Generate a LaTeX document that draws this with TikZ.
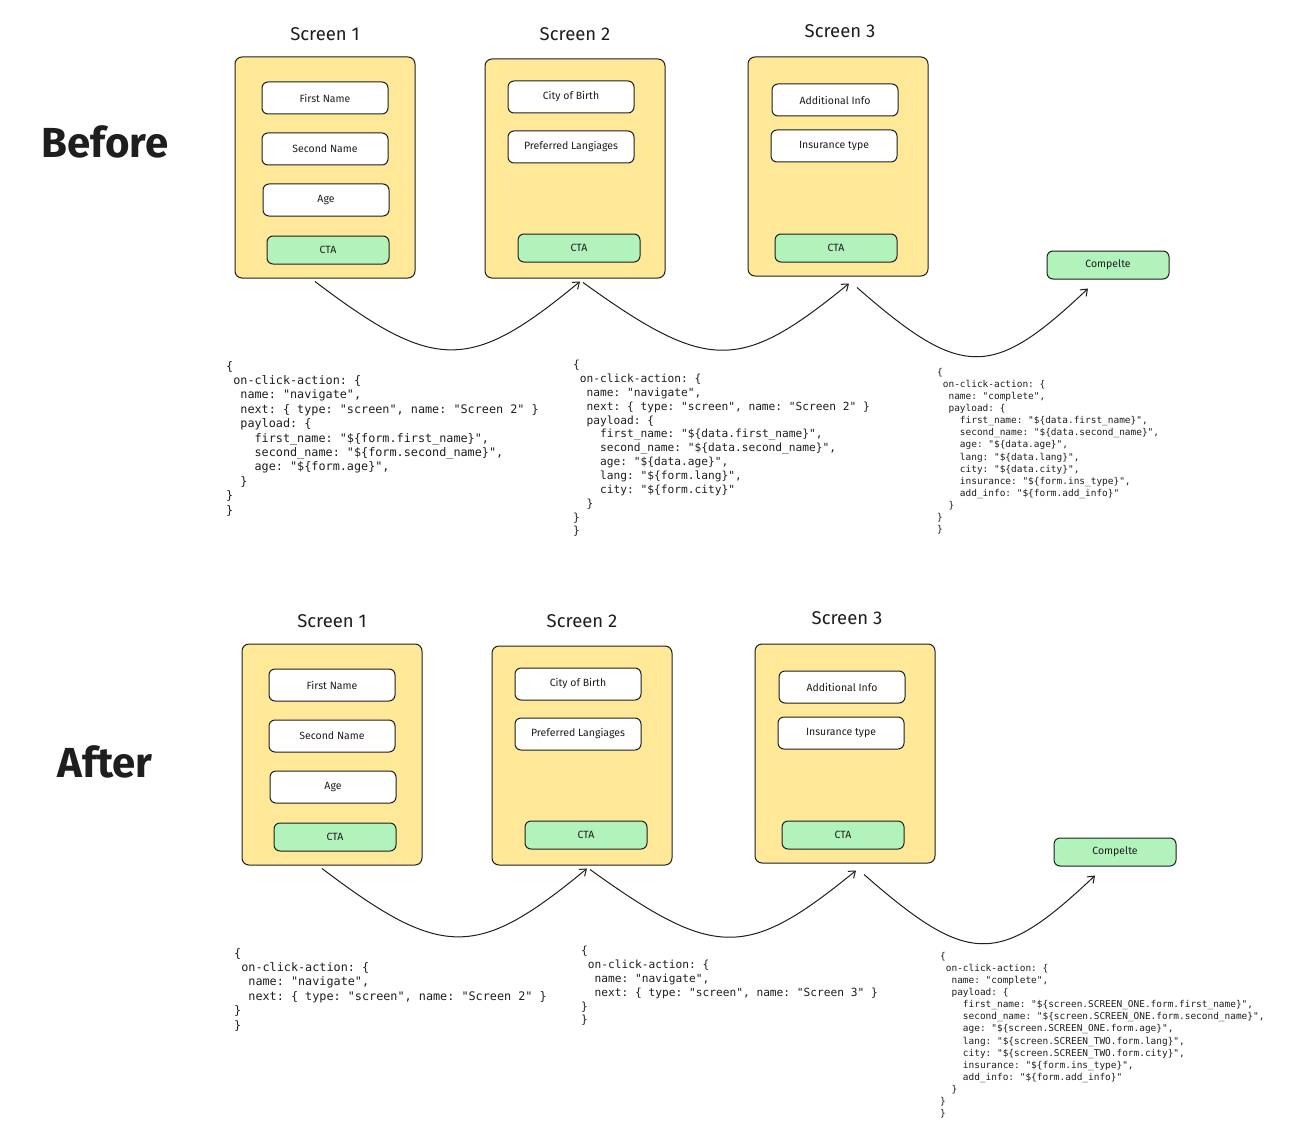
\documentclass[tikz,border=0pt]{standalone}
\usepackage{fontspec}
\setmainfont{Fira Sans}
\setmonofont{DejaVu Sans Mono}
\usetikzlibrary{arrows.meta}
\definecolor{ink}{HTML}{1E1E1E}
\definecolor{screenfill}{HTML}{FFE999}
\definecolor{ctafill}{HTML}{B2F2BB}
\newcommand{\ind}[1]{\hspace*{#1\fontcharwd\font`x}}
\tikzset{
  screenbox/.style={draw=ink, fill=screenfill, rounded corners=7pt, line width=1pt,
    minimum width=180pt, minimum height=220pt, inner sep=0pt},
  fieldbox/.style={draw=ink, fill=white, rounded corners=6pt, line width=1pt,
    minimum width=126pt, minimum height=32pt, inner sep=0pt, text=ink,
    font=\fontsize{10.5}{12}\selectfont},
  ctabox/.style={fieldbox, fill=ctafill, minimum width=122pt, minimum height=28pt},
  screentitle/.style={text=ink, font=\fontsize{18.5}{22}\selectfont},
  bigtitle/.style={text=ink, font=\fontsize{42}{48}\selectfont\bfseries},
  arc/.style={draw=ink, line width=1pt, -{Straight Barb[length=6pt,width=9pt]}},
  codeblock/.style={anchor=north west, inner sep=0pt, align=left, text=ink},
  codeL/.style={codeblock, font=\ttfamily\fontsize{11.8}{14.4}\selectfont},
  codeM/.style={codeblock, font=\ttfamily\fontsize{11.2}{13.85}\selectfont},
  codeS/.style={codeblock, font=\ttfamily\fontsize{9.45}{12.1}\selectfont},
}
\newcommand{\flow}{%
  \node[screentitle] (t1) at (325,34) {Screen 1};
  \node[screentitle] (t2) at (575,34) {Screen 2};
  \node[screentitle] (t3) at (840,31) {Screen 3};
  \node[screenbox, minimum height=221pt] (s1) at (325,167.5) {};
  \node[screenbox, minimum height=219pt] (s2) at (575,168.5) {};
  \node[screenbox, minimum height=219pt] (s3) at (838,166.5) {};
  \node[fieldbox] (s1a) at (325,98) {First Name};
  \node[fieldbox] (s1b) at (325,149) {Second Name};
  \node[fieldbox] (s1c) at (326,200) {Age};
  \node[ctabox] (s1cta) at (328,250) {CTA};
  \node[fieldbox] (s2a) at (571,97) {City of Birth};
  \node[fieldbox] (s2b) at (571,147) {Preferred Langiages};
  \node[ctabox] (s2cta) at (579,248) {CTA};
  \node[fieldbox] (s3a) at (835,100) {Additional Info};
  \node[fieldbox] (s3b) at (834,146) {Insurance type};
  \node[ctabox] (s3cta) at (836,248) {CTA};
  \node[ctabox] (done) at (1108,265) {Compelte};
  \draw[arc] ([xshift=-10pt,yshift=-3pt]s1.south) .. controls +(120,91) and +(-110,91) .. ([xshift=5pt,yshift=-3pt]s2.south);
  \draw[arc] ([xshift=8pt,yshift=-4pt]s2.south) .. controls +(125,90) and +(-109,89) .. ([xshift=11pt,yshift=-7pt]s3.south);
  \draw[arc] ([xshift=19pt,yshift=-11pt]s3.south) .. controls +(105,92) and +(-96,91) .. ([xshift=-20pt,yshift=-9pt]done.south);
}
\begin{document}
\begin{tikzpicture}[x=1pt,y=-1pt]
\path[use as bounding box, fill=white] (0,0) rectangle (1297,1142);

\node[bigtitle] (before) at (105,142) {Before};
\node[bigtitle] (after) at (105,762) {After};

\begin{scope}[name prefix=b-]
  \flow
\end{scope}
\begin{scope}[shift={(7,587)}, name prefix=a-]
  \flow
\end{scope}

% Before code blocks
\node[codeL] (cb1) at (226,361) {\{\\
\ind{1}on-click-action: \{\\
\ind{2}name: "navigate",\\
\ind{2}next: \{ type: "screen", name: "Screen 2" \}\\
\ind{2}payload: \{\\
\ind{4}first\_name: "\$\{form.first\_name\}",\\
\ind{4}second\_name: "\$\{form.second\_name\}",\\
\ind{4}age: "\$\{form.age\}",\\
\ind{2}\}\\
\}\\
\}};

\node[codeM] (cb2) at (573,360) {\{\\
\ind{1}on-click-action: \{\\
\ind{2}name: "navigate",\\
\ind{2}next: \{ type: "screen", name: "Screen 2" \}\\
\ind{2}payload: \{\\
\ind{4}first\_name: "\$\{data.first\_name\}",\\
\ind{4}second\_name: "\$\{data.second\_name\}",\\
\ind{4}age: "\$\{data.age\}",\\
\ind{4}lang: "\$\{form.lang\}",\\
\ind{4}city: "\$\{form.city\}"\\
\ind{2}\}\\
\}\\
\}};

\node[codeS] (cb3) at (937,368) {\{\\
\ind{1}on-click-action: \{\\
\ind{2}name: "complete",\\
\ind{2}payload: \{\\
\ind{4}first\_name: "\$\{data.first\_name\}",\\
\ind{4}second\_name: "\$\{data.second\_name\}",\\
\ind{4}age: "\$\{data.age\}",\\
\ind{4}lang: "\$\{data.lang\}",\\
\ind{4}city: "\$\{data.city\}",\\
\ind{4}insurance: "\$\{form.ins\_type\}",\\
\ind{4}add\_info: "\$\{form.add\_info\}"\\
\ind{2}\}\\
\}\\
\}};

% After code blocks
\node[codeL] (ca1) at (234,948) {\{\\
\ind{1}on-click-action: \{\\
\ind{2}name: "navigate",\\
\ind{2}next: \{ type: "screen", name: "Screen 2" \}\\
\}\\
\}};

\node[codeM] (ca2) at (581,946) {\{\\
\ind{1}on-click-action: \{\\
\ind{2}name: "navigate",\\
\ind{2}next: \{ type: "screen", name: "Screen 3" \}\\
\}\\
\}};

\node[codeS] (ca3) at (940,952) {\{\\
\ind{1}on-click-action: \{\\
\ind{2}name: "complete",\\
\ind{2}payload: \{\\
\ind{4}first\_name: "\$\{screen.SCREEN\_ONE.form.first\_name\}",\\
\ind{4}second\_name: "\$\{screen.SCREEN\_ONE.form.second\_name\}",\\
\ind{4}age: "\$\{screen.SCREEN\_ONE.form.age\}",\\
\ind{4}lang: "\$\{screen.SCREEN\_TWO.form.lang\}",\\
\ind{4}city: "\$\{screen.SCREEN\_TWO.form.city\}",\\
\ind{4}insurance: "\$\{form.ins\_type\}",\\
\ind{4}add\_info: "\$\{form.add\_info\}"\\
\ind{2}\}\\
\}\\
\}};
\end{tikzpicture}
\end{document}
